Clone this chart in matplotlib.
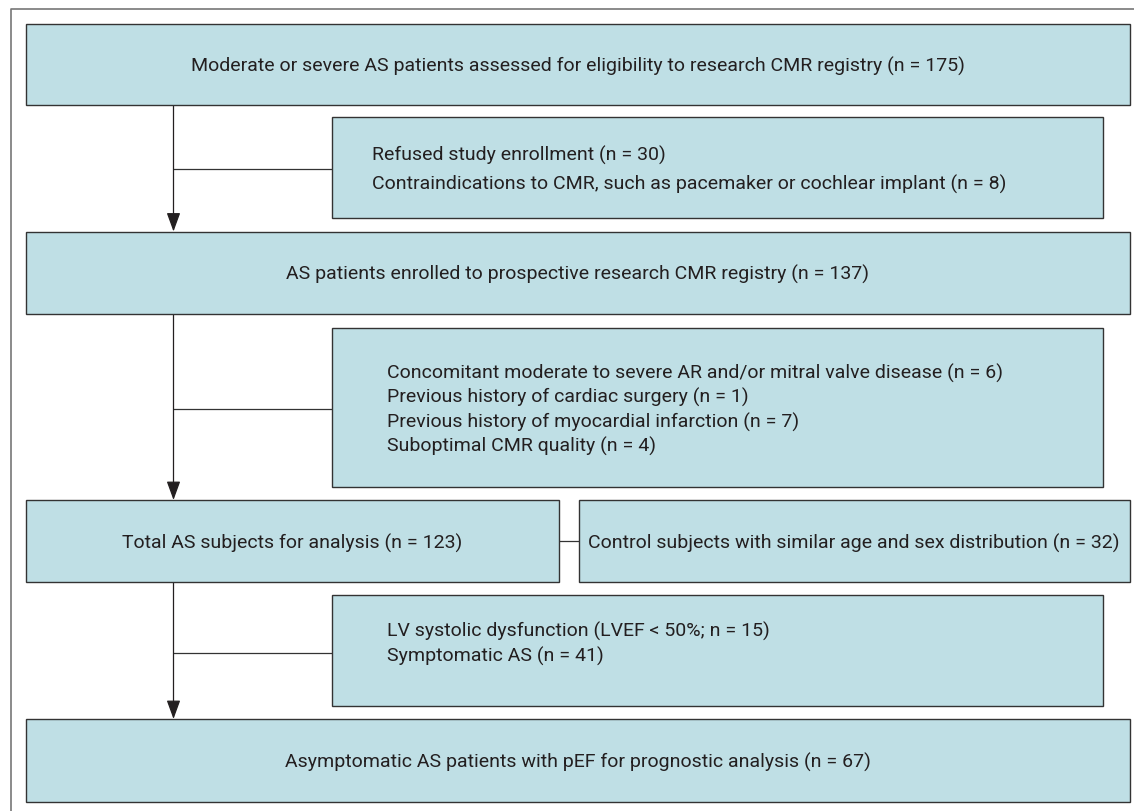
import matplotlib.pyplot as plt
from matplotlib.patches import Rectangle

# Texte der Hauptboxen (von oben nach unten)
haupt_texte = [
    "Moderate or severe AS patients assessed for eligibility to research CMR registry (n = 175)",
    "AS patients enrolled to prospective research CMR registry (n = 137)",
    "Total AS subjects for analysis (n = 123)",
    "Asymptomatic AS patients with pEF for prognostic analysis (n = 67)",
]
kontroll_text = "Control subjects with similar age and sex distribution (n = 32)"

# Ausschlussgruende je Stufe
ausschluss_texte = [
    ["Refused study enrollment (n = 30)",
     "Contraindications to CMR, such as pacemaker or cochlear implant (n = 8)"],
    ["Concomitant moderate to severe AR and/or mitral valve disease (n = 6)",
     "Previous history of cardiac surgery (n = 1)",
     "Previous history of myocardial infarction (n = 7)",
     "Suboptimal CMR quality (n = 4)"],
    ["LV systolic dysfunction (LVEF < 50%; n = 15)",
     "Symptomatic AS (n = 41)"],
]

# Layout in Pixeln (x0, y0, x1, y1)
haupt_boxen = [(26, 24.5, 1130, 106), (26, 232.5, 1130, 315),
               (26, 501, 559, 583), (26, 720, 1129.5, 803)]
kontroll_box = (579, 501, 1129.5, 583)
ausschluss_boxen = [(332, 118, 1103, 219), (332, 329, 1103, 488), (332, 596, 1103, 707)]
ausschluss_zeilen = [[155, 184], [373, 397, 422, 446], [631, 656]]
ausschluss_x = [372, 387, 387]
verbinder_y = [170, 410, 654]
linie_x = 173.5

FUELLUNG = "#bfdfe5"
RAND = "#333333"
TEXT = "#231f20"
SCHRIFT = ["Roboto", "DejaVu Sans"]
GROESSE = 14

W, H = 1134, 812
fig = plt.figure(figsize=(W / 100, H / 100), dpi=100)
ax = fig.add_axes([0, 0, 1, 1])
ax.set_xlim(0, W)
ax.set_ylim(H, 0)
ax.axis("off")


def box(x0, y0, x1, y1):
    ax.add_patch(Rectangle((x0, y0), x1 - x0, y1 - y0, facecolor=FUELLUNG,
                           edgecolor=RAND, linewidth=1.0, zorder=2))


def text(x, y, s, ha="center"):
    ax.text(x, y, s, ha=ha, va="center", fontsize=GROESSE, color=TEXT,
            family=SCHRIFT, zorder=3)


# Aeusserer Rahmen (nur links und oben sichtbar)
ax.plot([11, 11, W], [H, 10, 10], color="#777777", linewidth=1.2, zorder=1)

for (x0, y0, x1, y1), s in zip(haupt_boxen, haupt_texte):
    box(x0, y0, x1, y1)
    text((x0 + x1) / 2, (y0 + y1) / 2 + 1, s)

box(*kontroll_box)
text((kontroll_box[0] + kontroll_box[2]) / 2, (kontroll_box[1] + kontroll_box[3]) / 2 + 1,
     kontroll_text)
ax.plot([haupt_boxen[2][2], kontroll_box[0]], [542, 542], color=RAND, linewidth=0.9, zorder=1)

for b, zeilen, ys, xt, yv in zip(ausschluss_boxen, ausschluss_texte, ausschluss_zeilen,
                                 ausschluss_x, verbinder_y):
    box(*b)
    for s, y in zip(zeilen, ys):
        text(xt, y, s, ha="left")
    ax.plot([linie_x, b[0]], [yv, yv], color=RAND, linewidth=0.9, zorder=1)

# Pfeile zwischen den Hauptboxen
for oben, unten in zip(haupt_boxen[:-1], haupt_boxen[1:]):
    ax.annotate("", xy=(linie_x, unten[1]), xytext=(linie_x, oben[3]),
                arrowprops=dict(arrowstyle="-|>,head_length=1.15,head_width=0.42",
                                mutation_scale=10, color="#231f20", linewidth=0.9,
                                shrinkA=0, shrinkB=0), zorder=1)

fig.savefig("out.png", dpi=100)
